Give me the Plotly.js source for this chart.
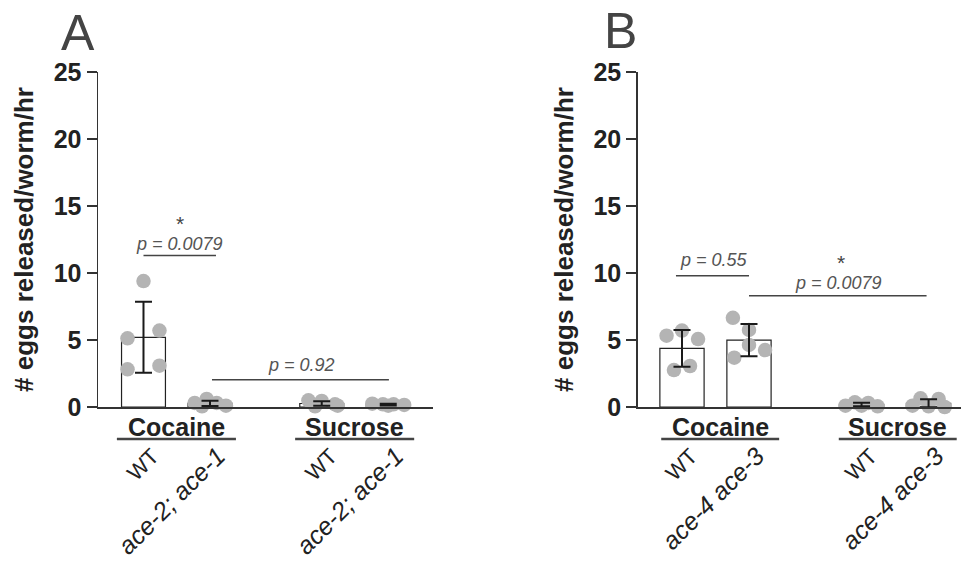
<!DOCTYPE html>
<html><head><meta charset="utf-8">
<script src="https://cdn.plot.ly/plotly-3.0.1.min.js"></script>
<style>html,body{margin:0;padding:0;background:#fff}#chart{width:961px;height:561px}</style>
</head><body><div id="chart"></div>
<script>
// ---------- data ----------
const groupNames = ['Cocaine', 'Sucrose'];
const tickLabelsA = ['WT', 'ace-2; ace-1', 'WT', 'ace-2; ace-1'];
const tickLabelsB = ['WT', 'ace-4 ace-3', 'WT', 'ace-4 ace-3'];

// Panel A individual worms (eggs released/worm/hr)
const A_cocWT  = [9.4, 5.7, 5.13, 2.81, 3.08];
const A_cocMut = [0.6, 0.3, 0.3, 0.1, 0.05];
const A_sucWT  = [0.5, 0.45, 0.2, 0.05, 0.1];
const A_sucMut = [0.25, 0.2, 0.2, 0.15, 0.1];
const meansA = [5.2, 0.27, 0.26, 0.18];
const sdA    = [2.65, 0.2, 0.17, 0.06];

// Panel B individual worms
const B_cocWT  = [5.32, 5.7, 5.07, 2.76, 3.06];
const B_cocMut = [6.66, 5.75, 4.63, 4.25, 3.68];
const B_sucWT  = [0.35, 0.3, 0.1, 0.05, 0.1];
const B_sucMut = [0.65, 0.6, 0.1, 0.0, 0.05];
const meansB = [4.38, 4.99, 0.18, 0.28];
const sdB    = [1.37, 1.2, 0.13, 0.3];

const pTextA = ['p = 0.0079', 'p = 0.92'];
const pTextB = ['p = 0.55', 'p = 0.0079'];

// ---------- layout helpers (positions / styles) ----------
const pos = [0, 1, 2.68, 3.68];
const jitA = [[0, 0.24, -0.24, -0.24, 0.24], [-0.05, -0.23, 0.1, 0.24, -0.12],
              [-0.2, 0, 0.2, -0.1, 0.24], [-0.24, -0.08, 0.08, 0.24, 0]];
const jitB = [[-0.23, 0, 0.24, -0.12, 0.12], [-0.24, 0, 0, 0.24, -0.22],
              [-0.1, 0.1, -0.24, 0.24, 0], [-0.12, 0.15, -0.24, 0.24, 0]];

const FONT = 'Liberation Sans, Arial, Helvetica, sans-serif';
const dotColor = '#b4b4b4';

function panelTraces(groups, jit, means, sd, xa, ya) {
  const tr = [];
  tr.push({type: 'bar', x: pos, y: means, width: 0.66, xaxis: xa, yaxis: ya,
    marker: {color: '#ffffff', line: {color: '#222', width: 1.2}},
    cliponaxis: false, hoverinfo: 'skip', showlegend: false});
  const dx = [], dy = [];
  groups.forEach((vals, i) => vals.forEach((v, j) => { dx.push(pos[i] + jit[i][j]); dy.push(v); }));
  tr.push({type: 'scatter', mode: 'markers', x: dx, y: dy, xaxis: xa, yaxis: ya,
    marker: {size: 14.5, color: dotColor}, cliponaxis: false, hoverinfo: 'skip', showlegend: false});
  tr.push({type: 'scatter', mode: 'markers', x: pos, y: means, xaxis: xa, yaxis: ya,
    marker: {size: 1, color: 'rgba(0,0,0,0)'},
    error_y: {type: 'data', array: sd, visible: true, color: '#1a1a1a', thickness: 2, width: 8.5},
    cliponaxis: false, hoverinfo: 'skip', showlegend: false});
  return tr;
}

const data = [].concat(
  panelTraces([A_cocWT, A_cocMut, A_sucWT, A_sucMut], jitA, meansA, sdA, 'x', 'y'),
  panelTraces([B_cocWT, B_cocMut, B_sucWT, B_sucMut], jitB, meansB, sdB, 'x2', 'y2')
);

function tt(labels) {
  return labels.map(l => l === 'WT' ? '<span style="font-size:22px">WT</span>' : '<i>' + l + '</i>');
}

const yax = (anchor) => ({
  anchor: anchor, domain: [0, 1], range: [0, 25], tickvals: [0, 5, 10, 15, 20, 25],
  ticks: 'outside', ticklen: 10, tickwidth: 1.5, tickcolor: '#333',
  showline: true, linecolor: '#333', linewidth: 1.5, showgrid: false, zeroline: false,
  tickfont: {family: FONT, size: 25, color: '#222', weight: 'bold'},
  title: {text: '# eggs released/worm/hr', standoff: 12,
          font: {family: FONT, size: 26, color: '#222', weight: 'bold'}}
});
const xax = (anchor, domain, range, labels) => ({
  anchor: anchor, domain: domain, range: range, tickvals: pos, ticktext: tt(labels),
  ticks: '', tickangle: -45, ticklabelstandoff: 23, ticklabelshift: 8,
  showline: true, linecolor: '#333', linewidth: 1.5, showgrid: false, zeroline: false,
  tickfont: {family: FONT, size: 25, color: '#222'}
});

const shapes = [];
const annotations = [];
function line(xref, yref, x0, x1, y, w, c) {
  shapes.push({type: 'line', xref: xref, yref: yref, x0: x0, x1: x1, y0: y, y1: y,
    line: {color: c, width: w}});
}
function txt(xref, yref, x, y, text, size, opts) {
  annotations.push(Object.assign({xref: xref, yref: yref, x: x, y: y, text: text, showarrow: false,
    xanchor: 'center', yanchor: 'middle',
    font: {family: FONT, size: size, color: '#555'}}, opts || {}));
}

// plot area spans y px 72..407 (335 px); paper coords below are relative to it
const pyToPaper = (py) => (407 - py) / 335;

// group labels + underlines
[['x', [0.496, 3.18], [[-0.4, 1.39], [2.28, 4.07]]], ['x2', [0.57, 3.22], [[-0.31, 1.45], [2.34, 4.1]]]]
  .forEach(([xr, centers, spans]) => {
    centers.forEach((c, i) => txt(xr, 'paper', c, pyToPaper(427), groupNames[i], 25,
      {font: {family: FONT, size: 25, color: '#222', weight: 'bold'}}));
    spans.forEach(s => line(xr, 'paper', s[0], s[1], pyToPaper(439), 2.5, '#444'));
  });

// significance annotations A
line('x', 'y', 0.0, 1.09, 11.3, 1.5, '#444');
txt('x', 'y', 0.545, 12.15, '<i>' + pTextA[0] + '</i>', 18);
txt('x', 'y', 0.545, 13.7, '*', 21, {font: {family: FONT, size: 21, color: '#444'}});
line('x', 'y', 1.03, 3.69, 2.04, 1.5, '#444');
txt('x', 'y', 2.38, 3.13, '<i>' + pTextA[1] + '</i>', 18);
// significance annotations B
line('x2', 'y2', -0.09, 1.0, 9.8, 1.5, '#444');
txt('x2', 'y2', 0.48, 10.97, '<i>' + pTextB[0] + '</i>', 18);
line('x2', 'y2', 1.0, 3.65, 8.3, 1.5, '#444');
txt('x2', 'y2', 2.34, 9.28, '<i>' + pTextB[1] + '</i>', 18);
txt('x2', 'y2', 2.37, 10.75, '*', 21, {font: {family: FONT, size: 21, color: '#444'}});

// panel letters
txt('paper', 'paper', (78 - 98) / 863, pyToPaper(33), 'A', 50,
  {font: {family: FONT, size: 50, color: '#444'}});
txt('paper', 'paper', (620 - 98) / 863, pyToPaper(31), 'B', 50,
  {font: {family: FONT, size: 50, color: '#444'}});

const layout = {
  width: 961, height: 561, autosize: false,
  margin: {l: 98, r: 0, t: 72, b: 154},
  paper_bgcolor: '#ffffff', plot_bgcolor: '#ffffff',
  showlegend: false, bargap: 0,
  font: {family: FONT, color: '#222'},
  xaxis: xax('y', [0, 335 / 863], [-0.684, 4.353], tickLabelsA),
  yaxis: yax('x'),
  xaxis2: xax('y2', [(637.7 - 98) / 863, 1], [-0.661, 4.164], tickLabelsB),
  yaxis2: yax('x2'),
  shapes: shapes, annotations: annotations
};

Plotly.newPlot('chart', data, layout, {displayModeBar: false, staticPlot: true});
</script></body></html>
